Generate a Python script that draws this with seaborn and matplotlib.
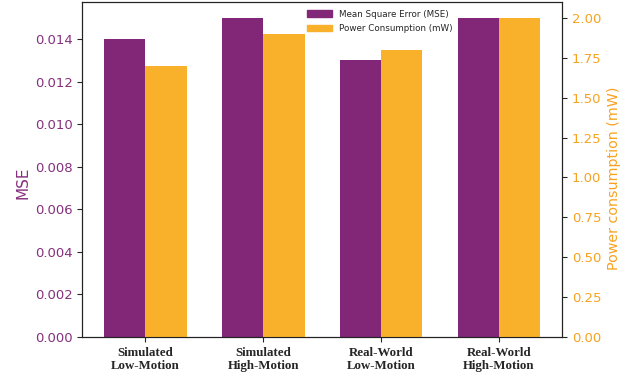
import numpy as np
import pandas as pd
import seaborn as sns
import matplotlib.pyplot as plt
from matplotlib.patches import Patch

# Data
scenarios = ["Simulated\nLow-Motion", "Simulated\nHigh-Motion",
             "Real-World\nLow-Motion", "Real-World\nHigh-Motion"]
mse = [0.014, 0.015, 0.013, 0.015]
power_mw = [1.7, 1.9, 1.8, 2.0]

purple = "#822778"
orange = "#f9b12b"
purple_txt = "#86307d"
orange_txt = "#f7a21f"
width = 0.35

sns.set_style("ticks")
plt.rcParams["font.family"] = ["DejaVu Sans"]

pos = np.arange(len(scenarios))
df = pd.DataFrame({"pos": pos, "mse": mse, "power": power_mw})

fig, ax1 = plt.subplots(figsize=(6.33, 3.77), dpi=100)
fig.subplots_adjust(left=0.13, right=0.888, top=0.995, bottom=0.106)

sns.barplot(x=df["pos"] - width / 2, y=df["mse"], ax=ax1, native_scale=True,
            width=width, color=purple, saturation=1, edgecolor="none")
ax2 = ax1.twinx()
sns.barplot(x=df["pos"] + width / 2, y=df["power"], ax=ax2, native_scale=True,
            width=width, color=orange, saturation=1, edgecolor="none")

ax1.set_xlim(-0.535, 3.535)
ax1.set_ylim(0, 0.01575)
ax2.set_ylim(0, 2.1)
ax1.set_yticks(np.arange(0, 0.0141, 0.002))
ax1.yaxis.set_major_formatter(plt.FormatStrFormatter("%.3f"))
ax2.set_yticks(np.arange(0, 2.01, 0.25))
ax2.yaxis.set_major_formatter(plt.FormatStrFormatter("%.2f"))

ax1.set_xticks(pos)
ax1.set_xticklabels(scenarios, family="Liberation Serif", fontweight="bold",
                    fontsize=9.3, linespacing=1.1)
ax1.set_xlabel("")
ax1.set_ylabel("MSE", color=purple_txt, fontsize=11)
ax2.set_ylabel("Power consumption (mW)", color=orange_txt, fontsize=10.3)
ax1.yaxis.set_label_coords(-0.108, 0.46)
ax2.yaxis.set_label_coords(1.094, 0.475)
ax1.tick_params(axis="y", labelcolor=purple_txt, labelsize=9.5)
ax2.tick_params(axis="y", labelcolor=orange_txt, labelsize=9.5)
for ax in (ax1, ax2):
    for s in ax.spines.values():
        s.set_visible(True)
        s.set_color("#222222")

handles = [Patch(color=purple, label="Mean Square Error (MSE)"),
           Patch(color=orange, label="Power Consumption (mW)")]
ax1.legend(handles=handles, loc="upper center", bbox_to_anchor=(0.62, 1.0),
           frameon=False, fontsize=6.3, handlelength=2.8, handleheight=0.8,
           labelspacing=0.6)

fig.savefig("out.png", dpi=100)
